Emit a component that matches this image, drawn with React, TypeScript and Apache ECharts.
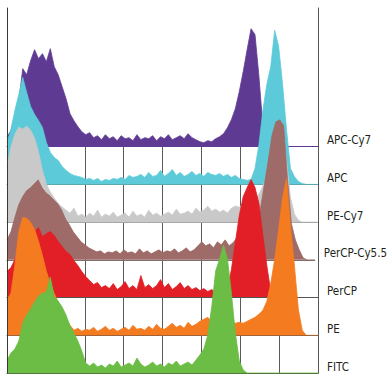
import React, { useEffect, useRef } from "react";
import * as echarts from "echarts";

const CHANNELS = ["APC-Cy7", "APC", "PE-Cy7", "PerCP-Cy5.5", "PerCP", "PE", "FITC"];
const COLORS = ["#5f3a93", "#5ccad8", "#c9c9c9", "#9e6b68", "#e21f26", "#f47b20", "#6cbd45"];
const BASELINE_COLORS = ["#5f3a93", "#5aa9b4", "#a8a8a8", "#7d6d6d", "#555555", "#a0643a", "#4f7a3c"];
const BINS = Array.from({ length: 80 }, (_, i) => String(i));
const GRID_TICKS = 8;

const apcCy7 = [
  10, 16, 30, 45, 78, 72, 86, 97, 88, 93,
  85, 98, 80, 72, 60, 48, 33, 26, 20, 15,
  12, 14, 9, 11, 7, 12, 8, 10, 6, 11,
  8, 9, 6, 12, 7, 9, 8, 11, 6, 10,
  8, 12, 7, 9, 11, 8, 13, 9, 7, 5,
  4, 6, 5, 8, 10, 13, 19, 27, 38, 55,
  75, 97, 118, 112, 70, 20, 0, 0, 0, 0,
  0, 0, 0, 0, 0, 0, 0, 0, 0, 0,
];
const apc = [
  42, 55, 74, 90, 107, 92, 78, 70, 64, 57,
  42, 32, 27, 24, 18, 14, 11, 9, 8, 7,
  5, 6, 4, 6, 3, 5, 4, 6, 5, 7,
  5, 9, 7, 8, 10, 7, 12, 8, 9, 14,
  8, 11, 15, 9, 12, 8, 10, 13, 9, 11,
  8, 12, 10, 9, 11, 8, 10, 7, 9, 6,
  5, 4, 5, 16, 40, 74, 100, 118, 154, 138,
  100, 55, 16, 8, 3, 1, 0, 0, 0, 0,
];
const peCy7 = [
  55, 75, 88, 95, 93, 96, 92, 84, 70, 52,
  38, 30, 24, 19, 15, 12, 9, 14, 6, 8,
  5, 9, 6, 12, 5, 8, 6, 10, 5, 7,
  9, 5, 11, 6, 8, 5, 12, 7, 9, 6,
  8, 10, 7, 13, 8, 9, 11, 8, 14, 10,
  12, 16, 11, 13, 10, 12, 9, 14, 16, 15,
  18, 16, 20, 22, 28, 36, 46, 58, 78, 102,
  90, 62, 25, 8, 2, 0, 0, 0, 0, 0,
];
const perCpCy55 = [
  20, 28, 42, 55, 63, 69, 72, 76, 80, 72,
  67, 64, 60, 56, 50, 41, 35, 28, 23, 18,
  15, 12, 10, 8, 9, 6, 8, 7, 9, 6,
  10, 7, 8, 6, 11, 7, 9, 6, 8, 10,
  7, 9, 8, 11, 7, 9, 12, 8, 10, 14,
  18, 14, 16, 12, 18, 15, 20, 14, 17, 22,
  16, 19, 21, 26, 36, 50, 74, 98, 124, 138,
  140, 134, 80, 36, 20, 10, 2, 0, 0, 0,
];
const perCp = [
  26, 30, 38, 46, 54, 60, 63, 66, 70, 61,
  64, 66, 62, 56, 51, 46, 43, 37, 32, 26,
  21, 17, 13, 15, 10, 12, 9, 14, 8, 11,
  16, 9, 12, 8, 22, 10, 13, 9, 12, 18,
  10, 14, 8, 11, 15, 9, 12, 8, 10, 7,
  9, 6, 8, 5, 7, 8, 8, 28, 55, 82,
  101, 110, 118, 110, 94, 62, 32, 6, 0, 0,
  0, 0, 0, 0, 0, 0, 0, 0, 0, 0,
];
const pe = [
  36, 42, 70, 104, 118, 117, 113, 106, 94, 80,
  64, 52, 42, 33, 25, 17, 10, 5, 7, 4,
  6, 5, 8, 4, 6, 9, 5, 7, 4, 6,
  8, 5, 10, 6, 7, 5, 9, 6, 11, 7,
  6, 9, 12, 8, 10, 7, 13, 9, 11, 14,
  16, 18, 14, 12, 13, 11, 12, 14, 12, 13,
  12, 14, 16, 18, 21, 25, 34, 52, 76, 106,
  138, 157, 110, 70, 26, 5, 0, 0, 0, 0,
];
const fitc = [
  13, 20, 24, 32, 50, 58, 64, 71, 77, 80,
  81, 96, 76, 72, 66, 58, 47, 40, 32, 22,
  10, 7, 10, 6, 8, 5, 9, 7, 12, 6,
  8, 10, 7, 15, 9, 6, 8, 11, 7, 9,
  6, 10, 8, 12, 7, 9, 11, 8, 13, 18,
  24, 38, 66, 102, 114, 128, 114, 80, 40, 12,
  3, 0, 0, 0, 0, 0, 0, 0, 0, 0,
  0, 0, 0, 0, 0, 0, 0, 0, 0, 0,
];
const SERIES = [apcCy7, apc, peCy7, perCpCy55, perCp, pe, fitc];

const W = 390;
const H = 374;
const LEFT = 7;
const RIGHT = 72;
const TOP = 8;
const FIRST_BASE = 146.7;
const STEP = 37.72;
const FONT = '"DejaVu Sans Condensed", "Liberation Sans Narrow", sans-serif';

export default function App() {
  const ref = useRef<HTMLDivElement>(null);
  useEffect(() => {
    document.body.style.margin = "0";
    if (!ref.current) return;
    const chart = echarts.init(ref.current, undefined, { renderer: "svg" });
    const grids: any[] = [];
    const xAxes: any[] = [];
    const yAxes: any[] = [];
    const series: any[] = [];
    CHANNELS.forEach((name, k) => {
      const base = FIRST_BASE + STEP * k;
      const gh = base - TOP;
      grids.push({ left: LEFT, right: RIGHT, top: TOP, height: gh });
      xAxes.push({
        gridIndex: k,
        type: "category",
        data: BINS,
        boundaryGap: false,
        z: 3 + k * 2,
        axisLine: { show: true, lineStyle: { color: BASELINE_COLORS[k], width: 1 } },
        axisTick: { show: false },
        axisLabel: { show: false },
        splitLine: { show: false },
        name,
        nameLocation: "end",
        nameGap: 9,
        nameTextStyle: {
          fontFamily: FONT,
          fontSize: 11.5,
          color: "#231f20",
          align: "left",
          verticalAlign: "bottom",
          lineHeight: 13,
        },
      });
      yAxes.push({ gridIndex: k, type: "value", min: 0, max: gh, show: false });
      series.push({
        type: "line",
        name,
        xAxisIndex: k,
        yAxisIndex: k,
        data: SERIES[k],
        symbol: "none",
        z: 2 + k * 2,
        lineStyle: { color: COLORS[k], width: 0.8 },
        areaStyle: { color: COLORS[k], opacity: 1 },
        silent: true,
      });
    });
    grids.push({ left: LEFT, right: RIGHT, top: FIRST_BASE, bottom: H - (FIRST_BASE + STEP * 6) });
    xAxes.push({
      gridIndex: 7,
      type: "value",
      min: 0,
      max: GRID_TICKS,
      interval: 1,
      axisLine: { show: false },
      axisTick: { show: false },
      axisLabel: { show: false },
      splitLine: { show: true, lineStyle: { color: "#5a5a5a", width: 1 } },
    });
    yAxes.push({ gridIndex: 7, type: "value", min: 0, max: 1, show: false });
    grids.push({ left: LEFT, right: RIGHT, top: TOP, bottom: H - (FIRST_BASE + STEP * 6) });
    xAxes.push({ gridIndex: 8, type: "value", min: 0, max: 1, show: false });
    yAxes.push({
      gridIndex: 8,
      type: "value",
      min: 0,
      max: 1,
      position: "left",
      z: 30,
      axisLine: { show: true, lineStyle: { color: "#3d3a2e", width: 1 } },
      axisTick: { show: false },
      axisLabel: { show: false },
      splitLine: { show: false },
    });
    yAxes.push({
      gridIndex: 8,
      type: "value",
      min: 0,
      max: 1,
      position: "right",
      z: 30,
      axisLine: { show: true, lineStyle: { color: "#555555", width: 1 } },
      axisTick: { show: false },
      axisLabel: { show: false },
      splitLine: { show: false },
    });
    chart.setOption({
      animation: false,
      grid: grids,
      xAxis: xAxes,
      yAxis: yAxes,
      series,
    });
    return () => chart.dispose();
  }, []);
  return <div ref={ref} style={{ width: W, height: H }} />;
}
